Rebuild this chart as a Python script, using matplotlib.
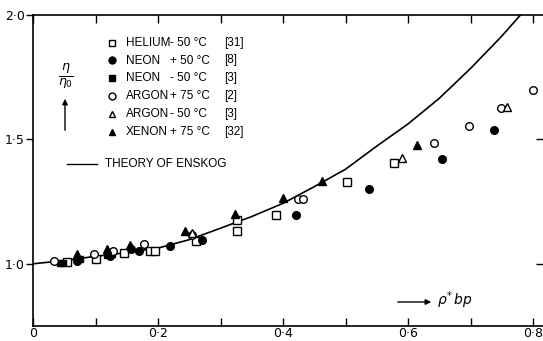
import matplotlib
matplotlib.use('Agg')
import matplotlib.pyplot as plt
from matplotlib.patches import FancyArrowPatch
from matplotlib.ticker import FixedLocator, MultipleLocator

# DATA
helium_x = [0.054, 0.101, 0.146, 0.187, 0.195, 0.261, 0.327, 0.327, 0.389, 0.502, 0.578]
helium_y = [1.009, 1.019, 1.042, 1.050, 1.052, 1.093, 1.176, 1.130, 1.196, 1.330, 1.406]

neon_hot_x = [0.070, 0.123, 0.157, 0.169, 0.219, 0.270, 0.421, 0.537, 0.654, 0.738]
neon_hot_y = [1.010, 1.032, 1.060, 1.052, 1.071, 1.097, 1.197, 1.300, 1.422, 1.536]

neon_cold_x = [0.043, 0.048, 0.075, 0.118, 0.127]
neon_cold_y = [1.005, 1.005, 1.020, 1.035, 1.040]

argon_hot_x = [0.033, 0.098, 0.128, 0.178, 0.255, 0.424, 0.432, 0.642, 0.698, 0.749, 0.800]
argon_hot_y = [1.010, 1.039, 1.050, 1.079, 1.115, 1.260, 1.260, 1.485, 1.552, 1.626, 1.700]

argon_cold_x = [0.254, 0.590, 0.758]
argon_cold_y = [1.122, 1.425, 1.630]

xenon_x = [0.070, 0.119, 0.155, 0.243, 0.323, 0.400, 0.462, 0.615]
xenon_y = [1.039, 1.058, 1.075, 1.133, 1.200, 1.265, 1.333, 1.476]

theory_x = [0, 0.05, 0.1, 0.15, 0.2, 0.25, 0.3, 0.35, 0.4, 0.45, 0.5,
            0.55, 0.6, 0.65, 0.7, 0.75, 0.78]
theory_y = [1.0, 1.013, 1.030, 1.045, 1.063, 1.097, 1.143, 1.190, 1.243, 1.310,
            1.380, 1.473, 1.562, 1.665, 1.785, 1.915, 2.0]

x_ticks = [0, 0.2, 0.4, 0.6, 0.8]
x_labels = ['0', '0·2', '0·4', '0·6', '0·8']
y_ticks = [1.0, 1.5, 2.0]
y_labels = ['1·0', '1·5', '2·0']

legend_names = ['HELIUM', 'NEON', 'NEON', 'ARGON', 'ARGON', 'XENON']
legend_temps = ['- 50 °C', '+ 50 °C', '- 50 °C', '+ 75 °C', '- 50 °C', '+ 75 °C']
legend_refs = ['[31]', '[8]', '[3]', '[2]', '[3]', '[32]']

W, H = 543, 341
fig = plt.figure(figsize=(W / 100, H / 100), dpi=100)
ax = fig.add_axes([33 / W, 15 / H, (W - 33) / W, 311 / H])
ax.set_xlim(0, (W - 33) / 625)
ax.set_ylim(0.75, 2.0)

ms = 5.5
ax.plot(theory_x, theory_y, color='black', lw=1.2, zorder=2)
ax.plot(helium_x, helium_y, 's', mfc='white', mec='black', mew=1.0, ms=ms, ls='none', zorder=3)
ax.plot(neon_hot_x, neon_hot_y, 'o', color='black', ms=ms, ls='none', zorder=3)
ax.plot(neon_cold_x, neon_cold_y, 's', color='black', ms=ms - 0.5, ls='none', zorder=3)
ax.plot(argon_hot_x, argon_hot_y, 'o', mfc='white', mec='black', mew=1.0, ms=ms, ls='none', zorder=3)
ax.plot(argon_cold_x, argon_cold_y, '^', mfc='white', mec='black', mew=1.0, ms=ms, ls='none', zorder=3)
ax.plot(xenon_x, xenon_y, '^', color='black', ms=ms, ls='none', zorder=3)

# axes styling
ax.spines['right'].set_visible(False)
for s in ['left', 'bottom', 'top']:
    ax.spines[s].set_linewidth(1.2)
ax.xaxis.set_major_locator(FixedLocator(x_ticks))
ax.set_xticklabels(x_labels)
ax.xaxis.set_minor_locator(MultipleLocator(0.1))
ax.tick_params(axis='x', which='both', direction='in', top=True, length=6, width=1.0,
               labelsize=9, pad=1)
ax.yaxis.set_major_locator(FixedLocator(y_ticks))
ax.set_yticklabels(y_labels)
ax.tick_params(axis='y', direction='out', length=5, width=1.0, labelsize=9, pad=1)

# right side ticks point inward
ax_r = ax.twinx()
ax_r.set_ylim(ax.get_ylim())
ax_r.yaxis.set_major_locator(FixedLocator([1.0, 1.5]))
ax_r.tick_params(axis='y', direction='in', length=5, width=1.0, labelright=False)
for s in ax_r.spines.values():
    s.set_visible(False)

# legend drawn by hand
fnt = dict(family=['Liberation Sans', 'DejaVu Sans'], fontsize=8.5, va='center')
markers = [('s', 'white'), ('o', 'black'), ('s', 'black'), ('o', 'white'), ('^', 'white'), ('^', 'black')]
for i, (m, fc) in enumerate(markers):
    py = 42.7 + i * 17.8
    xd, yd = ax.transData.inverted().transform((112, H - py))
    ax.plot([xd], [yd], m, mfc=fc, mec='black', mew=1.0, ms=ms - 0.5, clip_on=False)
    fig.text(126 / W, 1 - py / H, legend_names[i], **fnt)
    fig.text(170 / W, 1 - py / H, legend_temps[i], **fnt)
    fig.text(224 / W, 1 - py / H, legend_refs[i], **fnt)

fig.add_artist(plt.Line2D([67 / W, 97 / W], [1 - 164.3 / H, 1 - 164.3 / H], color='black', lw=1.0))
fig.text(105 / W, 1 - 164.3 / H, 'THEORY OF ENSKOG', **fnt)

# axis labels
fig.text(66 / W, 1 - 76 / H, r'$\frac{\eta}{\eta_0}$', fontsize=13, ha='center', va='center')
fig.add_artist(FancyArrowPatch((65 / W, 1 - 133 / H), (65 / W, 1 - 96 / H),
               transform=fig.transFigure, arrowstyle='-|>', mutation_scale=8, color='black', lw=1.0))
fig.add_artist(FancyArrowPatch((395 / W, 1 - 302 / H), (434 / W, 1 - 302 / H),
               transform=fig.transFigure, arrowstyle='-|>', mutation_scale=8, color='black', lw=1.0))
fig.text(437 / W, 1 - 300 / H, r'$\rho^{*}\,bp$', fontsize=10, ha='left', va='center')

fig.savefig('out.png', dpi=100)
